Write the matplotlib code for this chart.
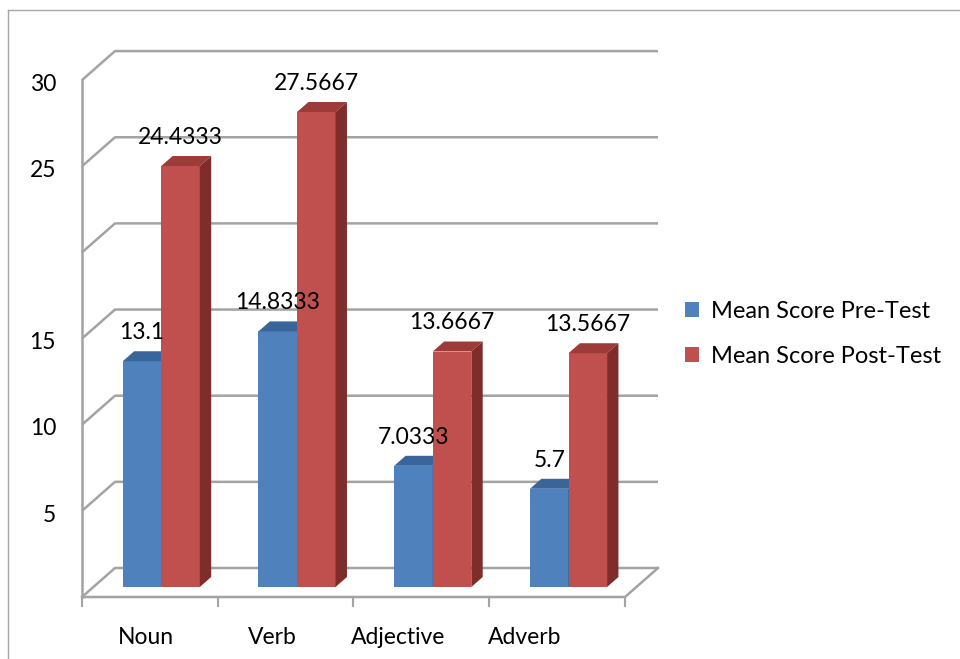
import numpy as np
import matplotlib.pyplot as plt
from matplotlib.patches import Polygon, Patch
from matplotlib.lines import Line2D

categories = ['Noun', 'Verb', 'Adjective', 'Adverb']
pre_test = [13.1, 14.8333, 7.0333, 5.7]
post_test = [24.4333, 27.5667, 13.6667, 13.5667]
pre_labels = ['13.1', '14.8333', '7.0333', '5.7']
post_labels = ['24.4333', '27.5667', '13.6667', '13.5667']
series_names = ['Mean Score Pre-Test', 'Mean Score Post-Test']
y_ticks = [0, 5, 10, 15, 20, 25, 30]
y_tick_labels = ['', '5', '10', '15', '', '25', '30']

plt.rcParams['font.family'] = ['Lato', 'DejaVu Sans']
FS = 16.5

# pixel layout of the fake 3d box (front plane)
W, H = 960, 659
PX_CAT = 135.75      # pixels per category
PX_UNIT = 17.23      # pixels per value unit
X0_PX, Y0_PX = 82, 597
DX = 33 / PX_CAT     # depth offset of the back wall
DY = 29 / PX_UNIT
grid_c = '#a3a3a3'

fig = plt.figure(figsize=(W / 100, H / 100), dpi=100)
ax = fig.add_axes([0, 0, 1, 1])
ax.set_xlim(-0.5 - X0_PX / PX_CAT, -0.5 + (W - X0_PX) / PX_CAT)
ax.set_ylim(-(H - Y0_PX) / PX_UNIT, Y0_PX / PX_UNIT)
ax.axis('off')

# outer frame
fig.add_artist(Line2D([8 / W, 8 / W], [0, 1 - 10 / H], color='#a6a6a6', lw=1))
fig.add_artist(Line2D([8 / W, 1], [1 - 10 / H, 1 - 10 / H], color='#a6a6a6', lw=1))

n = len(categories)
left, right = -0.5, n - 0.5

# walls, gridlines
for v in y_ticks:
    ax.plot([left, left + DX, right + DX], [v, v + DY, v + DY], color=grid_c, lw=1.8, zorder=1,
            solid_capstyle='butt')
ax.plot([left, left], [0, max(y_ticks)], color=grid_c, lw=1.8, zorder=1)
ax.plot([left, right, right + DX], [0, 0, DY], color=grid_c, lw=1.8, zorder=1)
for b in np.arange(n + 1) - 0.5:
    ax.plot([b, b], [0, -0.52], color=grid_c, lw=1.5, zorder=1)

for v, lab in zip(y_ticks, y_tick_labels):
    ax.text(left - 26 / PX_CAT, v - 0.62, lab, ha='right', va='baseline', fontsize=FS)

for i, c in enumerate(categories):
    ax.text(i * 0.93 - 0.028, -2.73, c, ha='center', va='baseline', fontsize=FS)

# bars
f0, f1 = 0.345, 0.69
bw = 0.284
ddx, ddy = (f1 - f0) * DX, (f1 - f0) * DY
base = f0 * DY
series = [
    (pre_test, pre_labels, '#4f81bd', '#3a659a', '#2f5685'),
    (post_test, post_labels, '#c0504d', '#9c3b38', '#7f2c2a'),
]
x = np.arange(n)
for s, (vals, labs, front, top, side) in enumerate(series):
    xc = x + (s - 0.5) * bw + f0 * DX
    ax.bar(xc, vals, width=bw, bottom=base, color=front, zorder=3 + s, linewidth=0)
    for xi, v, lab in zip(xc, vals, labs):
        xl, xr = xi - bw / 2, xi + bw / 2
        yt = base + v
        ax.add_patch(Polygon([(xl, yt), (xr, yt), (xr + ddx, yt + ddy), (xl + ddx, yt + ddy)],
                             closed=True, facecolor=top, edgecolor='none', zorder=3 + s))
        ax.add_patch(Polygon([(xr, base), (xr, yt), (xr + ddx, yt + ddy), (xr + ddx, base + ddy)],
                             closed=True, facecolor=side, edgecolor='none', zorder=3 + s))
        ax.text(xi, yt + 1.28, lab, ha='center', va='baseline', fontsize=FS, zorder=10)

handles = [Patch(facecolor=series[0][2]), Patch(facecolor=series[1][2])]
fig.legend(handles, series_names, loc='center left', bbox_to_anchor=(685 / W, 1 - 334 / H),
           frameon=False, fontsize=17, handlelength=0.6, handleheight=0.6,
           handletextpad=0.5, labelspacing=1.0, borderpad=0, borderaxespad=0)

fig.savefig('out.png', dpi=100)
